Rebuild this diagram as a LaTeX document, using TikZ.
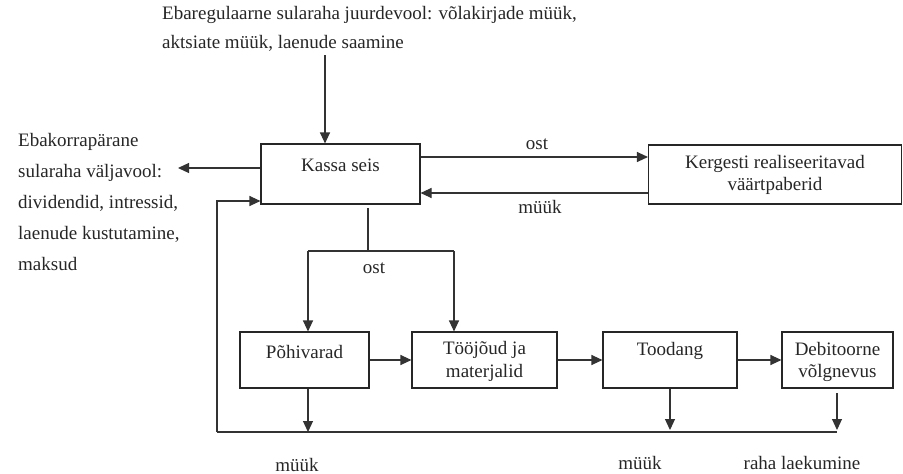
\documentclass[tikz,border=0pt]{standalone}
\usepackage{fontspec}
\setmainfont{Liberation Serif}
\usetikzlibrary{arrows.meta}
\begin{document}
\begin{tikzpicture}[x=1pt,y=-1pt,
  every node/.style={font=\fontsize{19}{22.5}\selectfont, text=black!85, inner sep=0pt},
  box/.style={draw=black!85, line width=1.1pt, rectangle},
  arr/.style={draw=black!80, line width=1.1pt, -{Triangle[length=11pt,width=10pt]}},
  ln/.style={draw=black!80, line width=1.1pt}]
\useasboundingbox (0,0) rectangle (903,474);
% boxes
\node[box, minimum width=159pt, minimum height=60pt] (kassa) at (340.5,174) {};
\node (kassaT) at (340.5,165) {Kassa seis};
\node[box, minimum width=253pt, minimum height=59pt] (kerg) at (775,174.5) {};
\node[align=center] (kergT) at (775,175) {Kergesti realiseeritavad\\väärtpaberid};
\node[box, minimum width=129pt, minimum height=56pt] (poh) at (304.5,360) {};
\node (pohT) at (304.5,352) {Põhivarad};
\node[box, minimum width=145pt, minimum height=56pt] (tj) at (484.5,360) {};
\node[align=center] (tjT) at (484.5,361.5) {Tööjõud ja\\materjalid};
\node[box, minimum width=134pt, minimum height=56pt] (tood) at (670,360) {};
\node (toodT) at (670,351) {Toodang};
\node[box, minimum width=111pt, minimum height=56pt] (deb) at (837.5,360) {};
\node[align=center] (debT) at (837.5,362) {Debitoorne\\võlgnevus};
% texts
\node[align=left, anchor=north west, font=\fontsize{19}{29}\selectfont] (top) at (162,6) {Ebaregulaarne sularaha juurdevool: võlakirjade müük,\\aktsiate müük, laenude saamine};
\node[align=left, anchor=north west, font=\fontsize{19}{31}\selectfont] (left) at (18,133) {Ebakorrapärane\\sularaha väljavool:\\dividendid, intressid,\\laenude kustutamine,\\maksud};
\node (ost1) at (537,144) {ost};
\node (myyk1) at (540,207) {müük};
\node (ost2) at (374,268) {ost};
\node (myyk2) at (297,465) {müük};
\node (myyk3) at (640,463) {müük};
\node (raha) at (802,463) {raha laekumine};
% coordinates
\coordinate (inTop) at (325,55);
\coordinate (outL) at (178,168);
\coordinate (loopL) at (217,201);
\coordinate (botL) at (217,432);
\coordinate (botR) at (837,432);
\coordinate (split) at (368,251);
\coordinate (splitL) at (308,251);
\coordinate (splitR) at (454,251);
% connectors
\draw[arr] (inTop) -- (inTop |- kassa.north);
\draw[arr] (kassa.west |- outL) -- (outL);
\draw[arr] (kassa.east |- 0,157) -- (kerg.west |- 0,157);
\draw[arr] (kerg.west |- 0,193) -- (kassa.east |- 0,193);
\draw[arr] (botL) -- (loopL) -- (kassa.west |- loopL);
\draw[ln] (botL) -- (botR);
\draw[ln] (split |- 0,208) -- (split);
\draw[ln] (splitL) -- (splitR);
\draw[arr] (splitL) -- (splitL |- poh.north);
\draw[arr] (splitR) -- (splitR |- tj.north);
\draw[arr] (poh.east) -- (tj.west);
\draw[arr] (tj.east) -- (tood.west);
\draw[arr] (tood.east) -- (deb.west);
\draw[arr] (poh.south -| 308,0) -- (308,432);
\draw[arr] (tood.south) -- (670,430);
\draw[arr] (837,393) -- (837,430);
\end{tikzpicture}
\end{document}
